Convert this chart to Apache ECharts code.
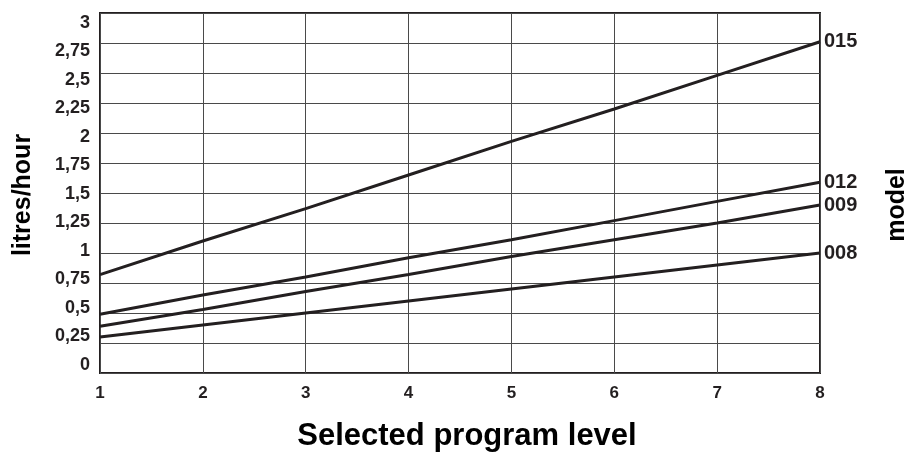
<!DOCTYPE html>
<html>
<head>
<meta charset="utf-8">
<script src="https://cdn.jsdelivr.net/npm/echarts@6/dist/echarts.min.js"></script>
<style>
    html, body { margin: 0; padding: 0; background: #fff; }
    #chart { width: 918px; height: 455px; }
</style>
</head>
<body>
<div id="chart"></div>
<script>
// Program levels on the x axis
const levels = [1, 2, 3, 4, 5, 6, 7, 8];

// Flow in litres/hour per model
const model015 = [0.82, 1.10, 1.37, 1.65, 1.93, 2.20, 2.48, 2.76];
const model012 = [0.49, 0.65, 0.80, 0.96, 1.11, 1.27, 1.43, 1.59];
const model009 = [0.39, 0.53, 0.68, 0.82, 0.97, 1.11, 1.25, 1.40];
const model008 = [0.30, 0.40, 0.50, 0.60, 0.70, 0.80, 0.90, 1.00];

const SERIES = [
    { name: '015', data: model015 },
    { name: '012', data: model012 },
    { name: '009', data: model009 },
    { name: '008', data: model008 },
];

const FONT = '"Liberation Sans", Arial, sans-serif';
const INK = '#231f20';

const chart = echarts.init(document.getElementById('chart'));

chart.setOption({
    animation: false,
    backgroundColor: '#fff',
    grid: [
        // plot area
        { left: 100, right: 98, top: 13, bottom: 82, show: true, borderColor: INK, borderWidth: 2 },
        // the y tick labels sit a little tighter than the grid lines in the original
        { left: 100, right: 98, top: 23, bottom: 90, show: false },
    ],
    xAxis: [
        {
            type: 'value', min: 1, max: 8, interval: 1, gridIndex: 0,
            axisLine: { show: false },
            axisTick: { show: false },
            axisLabel: { color: INK, fontFamily: FONT, fontWeight: 'bold', fontSize: 17, margin: 12 },
            splitLine: { lineStyle: { color: '#4a4a4a', width: 1 } },
        },
        { type: 'value', min: 1, max: 8, gridIndex: 1, show: false },
    ],
    yAxis: [
        {
            type: 'value', min: 0, max: 3, interval: 0.25, gridIndex: 0,
            axisLine: { show: false },
            axisTick: { show: false },
            axisLabel: { show: false },
            splitLine: { lineStyle: { color: '#4a4a4a', width: 1 } },
        },
        {
            type: 'value', min: 0, max: 3, interval: 0.25, gridIndex: 1,
            axisLine: { show: false },
            axisTick: { show: false },
            splitLine: { show: false },
            axisLabel: {
                color: INK, fontFamily: FONT, fontWeight: 'bold', fontSize: 18, margin: 10,
                formatter: v => String(v).replace('.', ','),
            },
        },
    ],
    graphic: [
        {
            type: 'text', rotation: Math.PI / 2, position: [23, 195],
            style: { text: 'litres/hour', font: `bold 25px ${FONT}`, fill: '#000', align: 'center', verticalAlign: 'middle' },
        },
        {
            type: 'text', rotation: Math.PI / 2, position: [897, 205],
            style: { text: 'model', font: `bold 25px ${FONT}`, fill: '#000', align: 'center', verticalAlign: 'middle' },
        },
        {
            type: 'text', position: [467, 436],
            style: { text: 'Selected program level', font: `bold 31px ${FONT}`, fill: '#000', align: 'center', verticalAlign: 'middle' },
        },
    ],
    series: SERIES.map(s => ({
        name: s.name,
        type: 'line',
        xAxisIndex: 0,
        yAxisIndex: 0,
        data: levels.map((x, i) => [x, s.data[i]]),
        showSymbol: false,
        lineStyle: { color: INK, width: 3 },
        endLabel: {
            show: true, formatter: s.name, distance: 4,
            color: INK, fontFamily: FONT, fontWeight: 'bold', fontSize: 20,
        },
    })),
});
</script>
</body>
</html>
